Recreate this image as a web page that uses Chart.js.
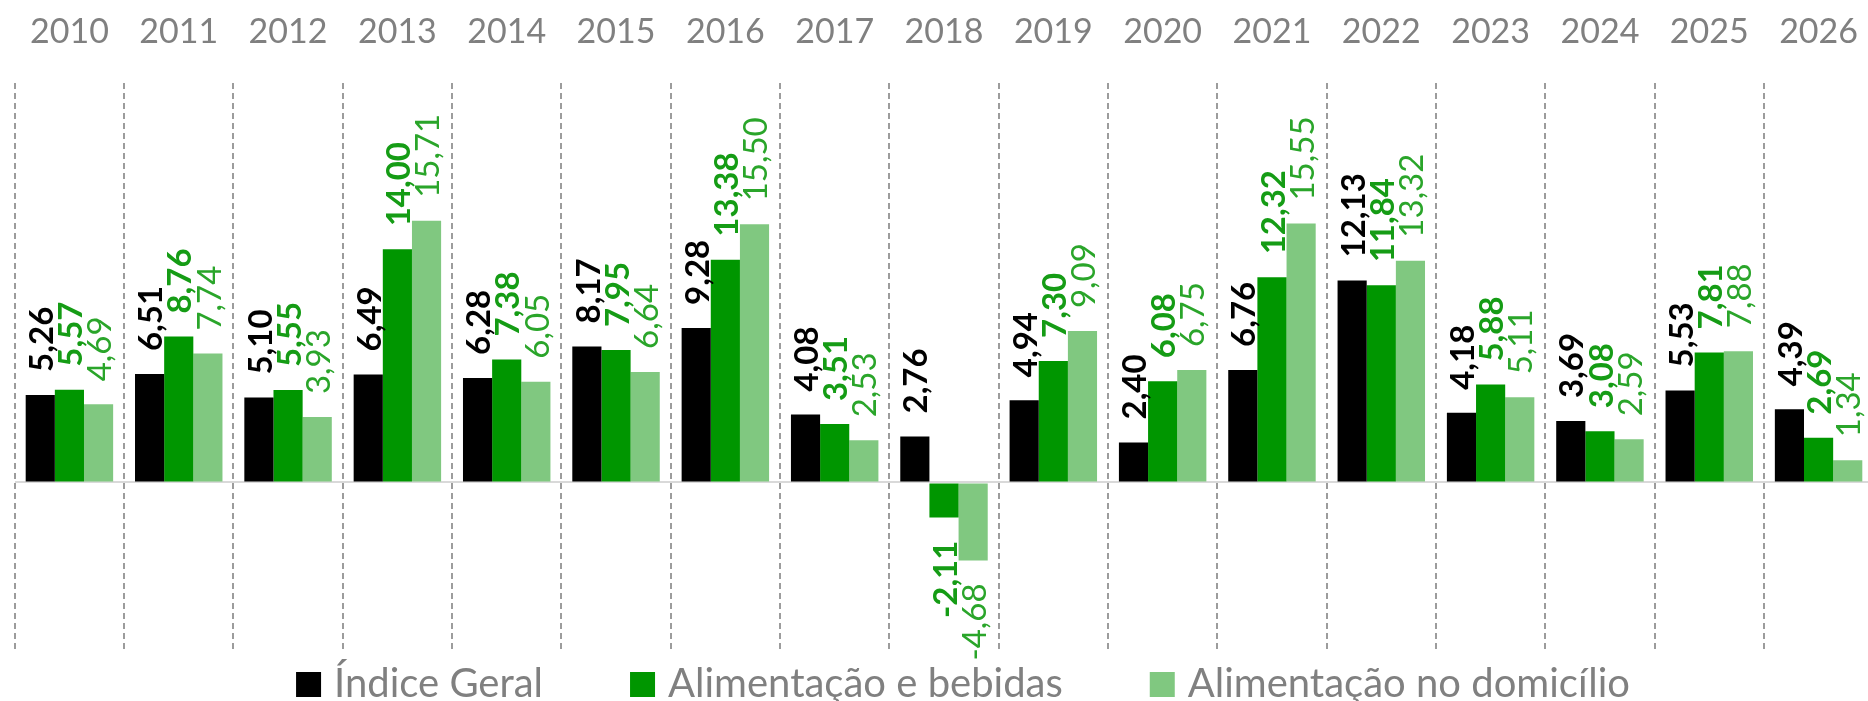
<!DOCTYPE html>
<html>
<head>
<meta charset="utf-8">
<title>Inflação - alimentação</title>
<script src="https://cdn.jsdelivr.net/npm/chart.js@4.4.1/dist/chart.umd.min.js"></script>
<style>
  body { margin: 0; background: #fff; overflow: hidden; }
  #wrap { width: 1888px; height: 701px; }
</style>
</head>
<body>
<div id="wrap"><canvas id="myChart" width="1888" height="701"></canvas></div>
<script>
// values (2026 is cut at the right edge)
const years = ['2010', '2011', '2012', '2013', '2014', '2015', '2016', '2017', '2018',
  '2019', '2020', '2021', '2022', '2023', '2024', '2025', '2026'];
const indiceGeral = [5.26, 6.51, 5.10, 6.49, 6.28, 8.17, 9.28, 4.08, 2.76,
  4.94, 2.40, 6.76, 12.13, 4.18, 3.69, 5.53, 4.39];
const alimentacaoBebidas = [5.57, 8.76, 5.55, 14.00, 7.38, 7.95, 13.38, 3.51, -2.11,
  7.30, 6.08, 12.32, 11.84, 5.88, 3.08, 7.81, 2.69];
const alimentacaoDomicilio = [4.69, 7.74, 3.93, 15.71, 6.05, 6.64, 15.50, 2.53, -4.68,
  9.09, 6.75, 15.55, 13.32, 5.11, 2.59, 7.88, 1.34];
const seriesNames = ['Índice Geral', 'Alimentação e bebidas', 'Alimentação no domicílio'];
const yMin = -10;
const yMax = 24;

const barColors = ['#000000', '#009600', '#80c880'];
const labelColors = ['#000000', '#159c15', '#2aa52a'];
const labelWeights = ['bold', 'bold', 'normal'];

function formatBR(v) {
  return v.toFixed(2).replace('.', ',');
}

// vertical value labels above (or below) each bar
const valueLabels = {
  id: 'valueLabels',
  afterDatasetsDraw(chart) {
    const ctx = chart.ctx;
    chart.data.datasets.forEach((ds, i) => {
      const meta = chart.getDatasetMeta(i);
      meta.data.forEach((bar, j) => {
        const v = ds.data[j];
        ctx.save();
        ctx.translate(bar.x + 2, bar.y);
        ctx.rotate(-Math.PI / 2);
        ctx.font = labelWeights[i] + ' 33px Lato';
        ctx.fillStyle = labelColors[i];
        ctx.textBaseline = 'middle';
        if (v >= 0) {
          ctx.textAlign = 'left';
          ctx.fillText(formatBR(v), 23, 0);
        } else {
          ctx.textAlign = 'right';
          ctx.fillText(formatBR(v), -23, 0);
        }
        ctx.restore();
      });
    });
  }
};

// legend drawn at the bottom, with wide gaps between the items
const bottomLegend = {
  id: 'bottomLegend',
  afterDraw(chart) {
    const ctx = chart.ctx;
    const box = 25, gapText = 13, gapItem = 87;
    ctx.save();
    ctx.font = '40px Lato';
    const items = chart.data.datasets.map(ds => ({
      text: ds.label,
      color: ds.backgroundColor,
      w: ctx.measureText(ds.label).width
    }));
    const total = items.reduce((s, it) => s + box + gapText + it.w, 0) + gapItem * (items.length - 1);
    let x = chart.width / 2 + 19 - total / 2;
    const base = chart.height - 4;
    items.forEach(it => {
      ctx.fillStyle = it.color;
      ctx.fillRect(x, base - box, box, box);
      x += box + gapText;
      ctx.fillStyle = '#808080';
      ctx.textAlign = 'left';
      ctx.textBaseline = 'alphabetic';
      ctx.fillText(it.text, x, base);
      x += it.w + gapItem;
    });
    ctx.restore();
  }
};

function renderChart() {
  const ctx = document.getElementById('myChart').getContext('2d');
  const allSeries = [indiceGeral, alimentacaoBebidas, alimentacaoDomicilio];
  const chart = new Chart(ctx, {
    type: 'bar',
    data: {
      labels: years,
      datasets: allSeries.map((values, i) => ({
        label: seriesNames[i],
        data: values,
        backgroundColor: barColors[i],
        borderWidth: 0,
        categoryPercentage: 0.8,
        barPercentage: 1.0
      }))
    },
    options: {
      responsive: false,
      animation: false,
      layout: {
        // the top axis reserves padding twice, so pull it up a bit
        padding: { left: 14, right: 0, top: -18, bottom: 52 }
      },
      plugins: {
        legend: { display: false },
        tooltip: { enabled: false }
      },
      scales: {
        x: {
          position: 'top',
          grid: { offset: true, color: '#9c9c9c', lineWidth: 2, drawTicks: false },
          border: { display: false, dash: [6, 4] },
          ticks: {
            color: '#808080',
            font: { family: 'Lato', size: 34 },
            padding: 30,
            maxRotation: 0,
            autoSkip: false
          }
        },
        y: {
          min: yMin,
          max: yMax,
          ticks: { display: false, stepSize: 2 },
          grid: {
            drawTicks: false,
            lineWidth: 2,
            color: c => (c.tick && c.tick.value === 0) ? '#d9d9d9' : 'rgba(0,0,0,0)'
          },
          border: { display: false }
        }
      }
    },
    plugins: [valueLabels, bottomLegend]
  });
  return chart;
}

Promise.all([
  document.fonts.load('34px Lato'),
  document.fonts.load('bold 33px Lato')
]).then(renderChart).catch(err => {
  console.log(err);
  renderChart();
});
</script>
</body>
</html>
